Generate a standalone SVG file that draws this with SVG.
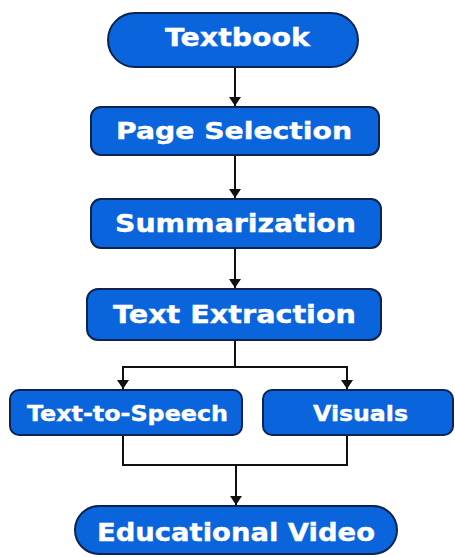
<svg xmlns="http://www.w3.org/2000/svg" width="455" height="557" viewBox="0 0 455 557">
<style>
.box{fill:#0a64dc;stroke:#0d2350;stroke-width:2}
.lbl{fill:#ffffff;stroke:#ffffff;stroke-width:0.4;font-family:"DejaVu Sans","Liberation Sans",sans-serif;font-weight:bold;text-anchor:middle}
.ln{fill:none;stroke:#111111;stroke-width:2}
</style>
<defs>
<marker id="ah" viewBox="0 0 9 12" refX="9" refY="6" markerWidth="9" markerHeight="12" markerUnits="userSpaceOnUse" orient="auto">
<path d="M0,0 L9,6 L0,12 z" fill="#111111"/>
</marker>
</defs>
<rect width="455" height="557" fill="#ffffff"/>
<g id="connectors">
<line class="ln" x1="235" y1="67" x2="235" y2="106" marker-end="url(#ah)"/>
<line class="ln" x1="235" y1="155" x2="235" y2="198" marker-end="url(#ah)"/>
<line class="ln" x1="235" y1="248" x2="235" y2="288" marker-end="url(#ah)"/>
<polyline class="ln" points="235,340 235,367"/>
<polyline class="ln" points="123,380 123,367 347,367 347,380"/>
<line class="ln" x1="123" y1="375" x2="123" y2="389" marker-end="url(#ah)"/>
<line class="ln" x1="347" y1="375" x2="347" y2="389" marker-end="url(#ah)"/>
<polyline class="ln" points="123,435 123,465 347,465 347,435"/>
<line class="ln" x1="236" y1="465" x2="236" y2="505" marker-end="url(#ah)"/>
</g>
<g id="textbook">
<rect class="box" x="108" y="13" width="250" height="54" rx="27"/>
<text class="lbl" x="237.5" y="46" font-size="25" textLength="145" lengthAdjust="spacingAndGlyphs">Textbook</text>
</g>
<g id="page-selection">
<rect class="box" x="91" y="107" width="288" height="48" rx="10"/>
<text class="lbl" x="234" y="139" font-size="23" textLength="236" lengthAdjust="spacingAndGlyphs">Page Selection</text>
</g>
<g id="summarization">
<rect class="box" x="91" y="199" width="290" height="49" rx="10"/>
<text class="lbl" x="235.5" y="232" font-size="24" textLength="241" lengthAdjust="spacingAndGlyphs">Summarization</text>
</g>
<g id="text-extraction">
<rect class="box" x="87" y="289" width="294" height="51" rx="11"/>
<text class="lbl" x="234.5" y="323" font-size="25" textLength="243" lengthAdjust="spacingAndGlyphs">Text Extraction</text>
</g>
<g id="text-to-speech">
<rect class="box" x="10" y="390" width="232" height="45" rx="9"/>
<text class="lbl" x="127.5" y="421" font-size="21" textLength="201" lengthAdjust="spacingAndGlyphs">Text-to-Speech</text>
</g>
<g id="visuals">
<rect class="box" x="263" y="390" width="190" height="45" rx="9"/>
<text class="lbl" x="360.5" y="421" font-size="21" textLength="95" lengthAdjust="spacingAndGlyphs">Visuals</text>
</g>
<g id="educational-video">
<rect class="box" x="75" y="506" width="322" height="48" rx="24"/>
<text class="lbl" x="236" y="541" font-size="25" textLength="278" lengthAdjust="spacingAndGlyphs">Educational Video</text>
</g>
</svg>
